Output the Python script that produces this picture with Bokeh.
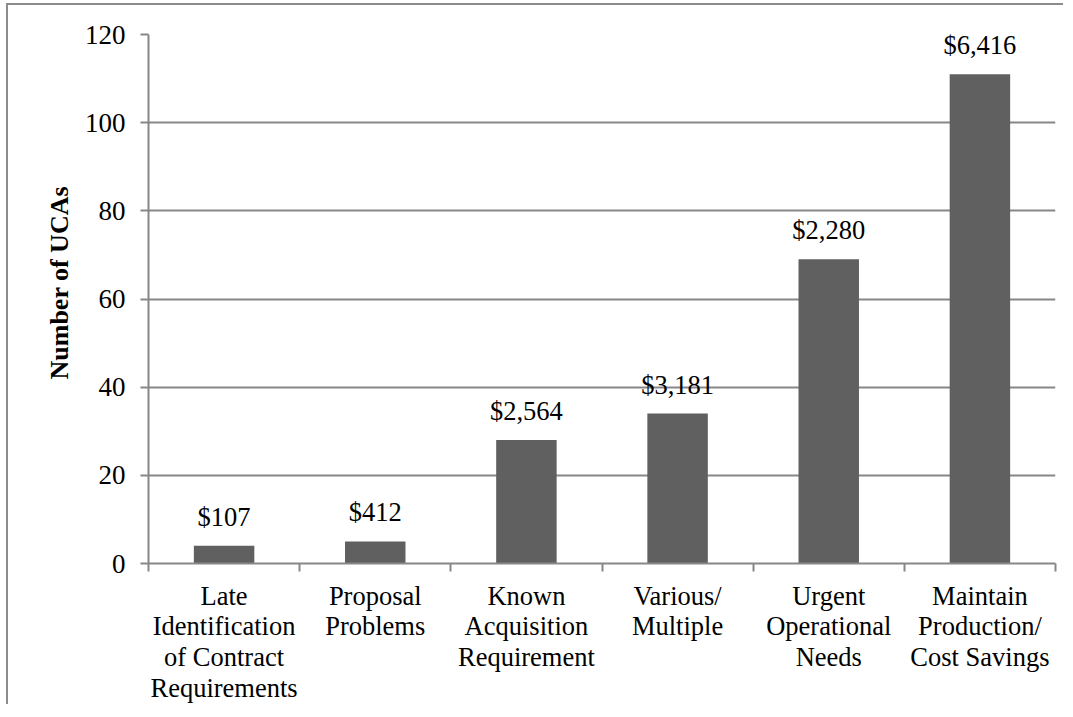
from bokeh.plotting import figure
from bokeh.models import ColumnDataSource, Range1d, FixedTicker
from bokeh.core.properties import value
from bokeh.embed import file_html
from bokeh.resources import INLINE

categories = [
    "Late\nIdentification\nof Contract\nRequirements",
    "Proposal\nProblems",
    "Known\nAcquisition\nRequirement",
    "Various/\nMultiple",
    "Urgent\nOperational\nNeeds",
    "Maintain\nProduction/\nCost Savings",
]
num_ucas = [4, 5, 28, 34, 69, 111]
dollar_labels = ["$107", "$412", "$2,564", "$3,181", "$2,280", "$6,416"]
y_ticks = [0, 20, 40, 60, 80, 100, 120]

FONT = "Liberation Serif"
GRID = "#878787"
BAR = "#606060"

xpos = [i + 0.5 for i in range(len(categories))]
src = ColumnDataSource(dict(x=xpos, top=num_ucas, lab=dollar_labels))

p = figure(
    width=1057, height=701,
    x_range=Range1d(0, len(categories)), y_range=Range1d(0, 120),
    output_backend="svg", toolbar_location=None,
    min_border_left=140, min_border_right=10, min_border_top=29, min_border_bottom=142,
)
p.styles = {"border-left": "2px solid #8c8c8c", "border-top": "2px solid #8c8c8c",
            "margin-left": "6px", "margin-top": "3px"}
p.outline_line_color = None
p.background_fill_color = "white"
p.border_fill_color = "white"

p.vbar(x="x", top="top", bottom=0, width=0.4, source=src, fill_color=BAR, line_color=None)
p.text(x="x", y="top", text="lab", source=src, text_align="center", text_baseline="alphabetic",
       y_offset=-29, text_font=value(FONT), text_font_size="26.5px", text_color="black")

# x axis
p.xaxis.ticker = FixedTicker(ticks=xpos, minor_ticks=list(range(len(categories) + 1)))
p.xaxis.major_label_overrides = {x: c for x, c in zip(xpos, categories)}
p.xaxis.major_tick_line_color = None
p.xaxis.minor_tick_line_color = GRID
p.xaxis.minor_tick_line_width = 2
p.xaxis.minor_tick_out = 8
p.xaxis.minor_tick_in = 0
p.xaxis.major_label_standoff = 9
p.xaxis.major_label_text_font = FONT
p.xaxis.major_label_text_font_size = "26.5px"
p.xaxis.major_label_text_color = "black"
p.xaxis.major_label_text_line_height = 1.03
p.xaxis.axis_line_color = GRID
p.xaxis.axis_line_width = 2
p.xgrid.grid_line_color = None

# y axis
p.yaxis.ticker = FixedTicker(ticks=y_ticks)
p.yaxis.minor_tick_line_color = None
p.yaxis.major_tick_line_color = GRID
p.yaxis.major_tick_line_width = 2
p.yaxis.major_tick_out = 8
p.yaxis.major_tick_in = 0
p.yaxis.major_label_standoff = 15
p.yaxis.major_label_text_font = FONT
p.yaxis.major_label_text_font_size = "27px"
p.yaxis.major_label_text_color = "black"
p.yaxis.axis_line_color = GRID
p.yaxis.axis_line_width = 2
p.yaxis.axis_label = "\u00a0" * 5 + "Number of UCAs"
p.yaxis.axis_label_text_font = FONT
p.yaxis.axis_label_text_font_style = "bold"
p.yaxis.axis_label_text_font_size = "26px"
p.yaxis.axis_label_text_color = "black"
p.yaxis.axis_label_standoff = 8
p.ygrid.grid_line_color = GRID
p.ygrid.grid_line_width = 2

open("out.html", "w").write(file_html(p, INLINE))
